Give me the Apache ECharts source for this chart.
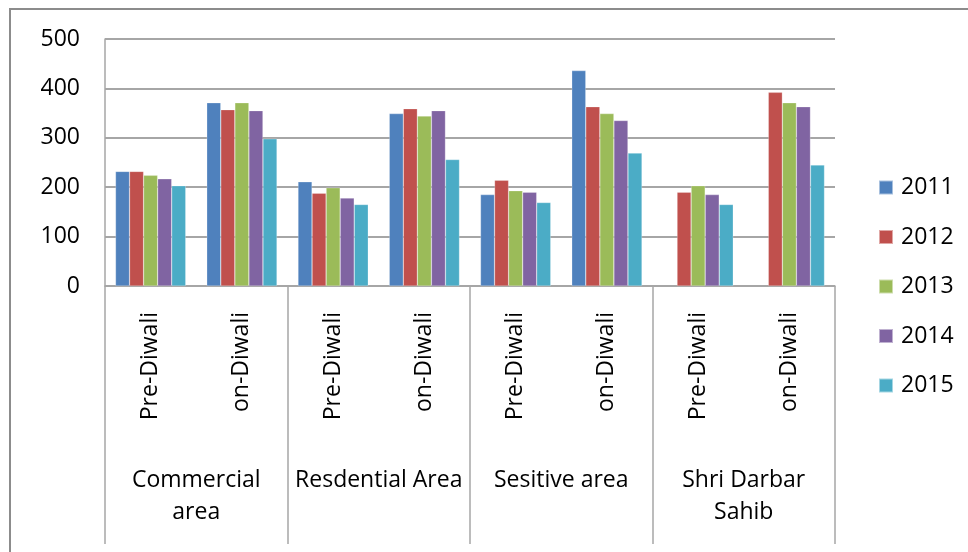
<!DOCTYPE html>
<html lang="en">
<head>
    <meta charset="UTF-8">
    <title>Diwali noise levels</title>
    <script src="https://cdn.jsdelivr.net/npm/echarts@6/dist/echarts.min.js"></script>
    <style>
        html, body { margin: 0; padding: 0; background: #fff; }
        #main { width: 968px; height: 552px; }
    </style>
</head>
<body>
<div id="main"></div>
<script>
    // x categories (two levels) and the years
    var periods = ['Pre-Diwali', 'on-Diwali', 'Pre-Diwali', 'on-Diwali', 'Pre-Diwali', 'on-Diwali', 'Pre-Diwali', 'on-Diwali'];
    var groups = ['Commercial\narea', 'Resdential Area', 'Sesitive area', 'Shri Darbar\nSahib'];
    var years = ['2011', '2012', '2013', '2014', '2015'];
    var yTicks = [0, 100, 200, 300, 400, 500];

    // values
    var v2011 = [232, 371, 211, 349, 185, 436, null, null];
    var v2012 = [232, 357, 188, 359, 214, 363, 190, 392];
    var v2013 = [224, 371, 199, 344, 193, 349, 203, 371];
    var v2014 = [217, 355, 178, 355, 190, 335, 185, 363];
    var v2015 = [203, 298, 165, 256, 169, 269, 165, 245];

    var colors = ['#4F81BD', '#C0504D', '#9BBB59', '#8064A2', '#4BACC6'];
    var allData = [v2011, v2012, v2013, v2014, v2015];
    var font = 'Open Sans';
    var gray = '#A6A6A6';

    var series = [];
    for (var i = 0; i < years.length; i++) {
        series.push({
            name: years[i],
            type: 'bar',
            xAxisIndex: 0,
            data: allData[i],
            barGap: 0,
            barCategoryGap: '23%',
            itemStyle: { color: colors[i], borderColor: 'rgba(255,255,255,0.5)', borderWidth: 0.5 }
        });
    }

    var myChart = echarts.init(document.getElementById('main'));
    var option = {
        animation: false,
        textStyle: { fontFamily: font },
        graphic: [{
            type: 'rect',
            shape: { x: 10, y: 9, width: 1000, height: 600 },
            style: { fill: 'none', stroke: '#8C8C8C', lineWidth: 2 },
            z: -1
        }],
        grid: { left: 105, top: 39, width: 730, height: 247 },
        legend: {
            orient: 'vertical',
            left: 878,
            top: 176,
            padding: 0,
            icon: 'rect',
            itemWidth: 14,
            itemHeight: 14,
            itemGap: 26.5,
            textStyle: { fontSize: 23, color: '#000', lineHeight: 22, fontFamily: font, padding: [0, 0, 0, 3] },
            data: years
        },
        xAxis: [{
            type: 'category',
            data: periods,
            axisLine: { lineStyle: { color: gray, width: 1.5 } },
            axisTick: { show: false },
            axisLabel: { rotate: 90, margin: 26, fontSize: 23, color: '#000', interval: 0 }
        }, {
            type: 'category',
            data: groups,
            position: 'bottom',
            axisLine: { show: false },
            axisTick: { show: true, length: 258, interval: 0, lineStyle: { color: gray, width: 1.5 } },
            axisLabel: { margin: 178, fontSize: 23, lineHeight: 32, color: '#000', interval: 0 }
        }],
        yAxis: {
            type: 'value',
            min: yTicks[0],
            max: yTicks[yTicks.length - 1],
            interval: 100,
            axisLine: { show: true, lineStyle: { color: gray, width: 1.5 } },
            axisTick: { show: false },
            splitLine: { lineStyle: { color: gray, width: 2 } },
            axisLabel: { margin: 25, fontSize: 23, color: '#000' }
        },
        series: series
    };
    myChart.setOption(option);
</script>
</body>
</html>
